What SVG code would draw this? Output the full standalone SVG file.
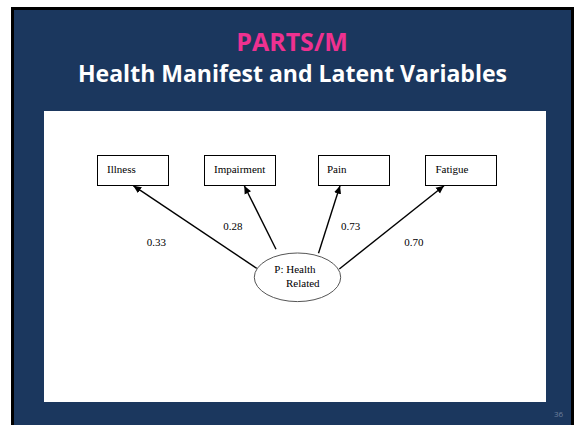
<svg xmlns="http://www.w3.org/2000/svg" width="576" height="425" viewBox="0 0 576 425">
  <defs>
    <marker id="ah" viewBox="0 0 10 10" refX="10" refY="5" markerWidth="8" markerHeight="8" markerUnits="userSpaceOnUse" orient="auto">
      <path d="M0,0.5 L10,5 L0,9.5 z" fill="#000"/>
    </marker>
    <style>
      .box { fill: #fff; stroke: #000; stroke-width: 1; }
      .lbl { font-family: "Liberation Serif", "Times New Roman", serif; font-size: 11px; fill: #000; }
      .edge { stroke: #000; stroke-width: 1.4; fill: none; marker-end: url(#ah); }
    </style>
  </defs>
  <rect x="0" y="0" width="576" height="425" fill="#fff"/>
  <rect x="11" y="7" width="563" height="418" fill="#000"/>
  <rect x="14" y="10" width="557" height="415" fill="#1b375e"/>
  <text x="292" y="51" text-anchor="middle" font-family="'Open Sans', 'Liberation Sans', sans-serif" font-weight="bold" font-size="25" fill="#ee3190">PARTS/M</text>
  <text x="292.5" y="82" text-anchor="middle" font-family="'Open Sans', 'Liberation Sans', sans-serif" font-weight="bold" font-size="22.5" textLength="429" lengthAdjust="spacingAndGlyphs" fill="#fff">Health Manifest and Latent Variables</text>
  <rect x="44" y="111" width="502" height="291" fill="#fff"/>

  <g id="connectors">
    <line class="edge" x1="256.7" y1="268.3" x2="133.3" y2="185.7"/>
    <line class="edge" x1="276" y1="249.3" x2="244.3" y2="185.7"/>
    <line class="edge" x1="318.5" y1="253.3" x2="340" y2="185.7"/>
    <line class="edge" x1="339.3" y1="269" x2="444" y2="185.7"/>
    <text class="lbl" x="146.7" y="246">0.33</text>
    <text class="lbl" x="223.3" y="230">0.28</text>
    <text class="lbl" x="341" y="230">0.73</text>
    <text class="lbl" x="404.3" y="246">0.70</text>
  </g>

  <g id="illness">
    <rect class="box" x="97.5" y="155.5" width="71" height="30"/>
    <text class="lbl" x="107" y="173">Illness</text>
  </g>
  <g id="impairment">
    <rect class="box" x="204.5" y="155.5" width="71" height="30"/>
    <text class="lbl" x="214" y="173">Impairment</text>
  </g>
  <g id="pain">
    <rect class="box" x="318.5" y="155.5" width="71" height="30"/>
    <text class="lbl" x="327" y="173">Pain</text>
  </g>
  <g id="fatigue">
    <rect class="box" x="425.5" y="155.5" width="71" height="30"/>
    <text class="lbl" x="435.5" y="173">Fatigue</text>
  </g>
  <g id="health-related">
    <ellipse cx="297.5" cy="277.3" rx="43.2" ry="24.3" fill="#fff" stroke="#555" stroke-width="1"/>
    <text class="lbl" x="274.3" y="272.7">P: Health</text>
    <text class="lbl" x="286" y="286.7">Related</text>
  </g>

  <text x="554" y="417" font-family="'Open Sans', 'Liberation Sans', sans-serif" font-size="8" fill="#6d7f9c">36</text>
</svg>
